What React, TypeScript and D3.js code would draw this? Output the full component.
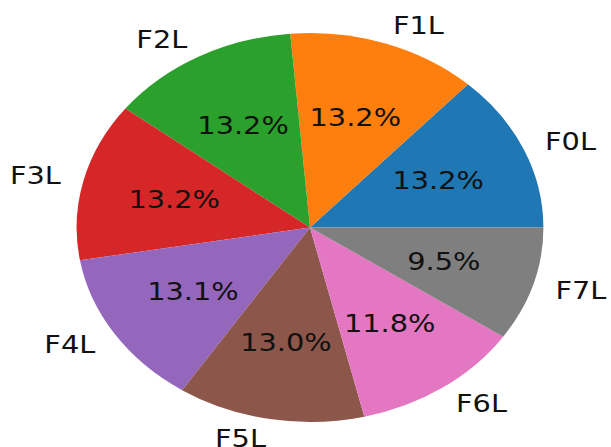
import * as d3 from 'd3';

const labels = ["F0L", "F1L", "F2L", "F3L", "F4L", "F5L", "F6L", "F7L"];
const shares = [13.2, 13.2, 13.2, 13.2, 13.1, 13.0, 11.8, 9.5];
const colors = ["#1f77b4", "#ff7f0e", "#2ca02c", "#d62728", "#9467bd", "#8c564b", "#e377c2", "#7f7f7f"];

const W = 611;
const H = 447;
// the picture is stretched sideways, so draw a circle and squeeze x
const stretchX = 1.2;
const cx = 310 / stretchX;
const cy = 227.5;
const radius = 194.5;

const App = () => {
  const idx = d3.range(shares.length);

  // matplotlib style: start at 3 o'clock, go counterclockwise
  const pie = d3.pie<number>()
    .sort(null)
    .value(i => shares[i])
    .startAngle(Math.PI / 2)
    .endAngle(Math.PI / 2 - Math.PI * 2);

  const arcs = pie(idx);
  const arc = d3.arc<d3.PieArcDatum<number>>().innerRadius(0).outerRadius(radius);

  const at = (a: d3.PieArcDatum<number>, k: number) => {
    const mid = (a.startAngle + a.endAngle) / 2;
    return [Math.sin(mid) * radius * k, -Math.cos(mid) * radius * k];
  };

  return (
    <svg width={W} height={H} style={{ position: 'absolute', left: 0, top: 0, background: '#fff' }}>
      <g transform={`scale(${stretchX},1) translate(${cx},${cy})`}
        fontFamily="DejaVu Sans, sans-serif" fontSize={24} fill="#111">
        {arcs.map(a => (
          <path key={'s' + a.data} d={arc(a) || ''} fill={colors[a.data]} />
        ))}
        {arcs.map(a => {
          const [x, y] = at(a, 0.6);
          return (
            <text key={'p' + a.data} x={x} y={y} dy="0.36em" textAnchor="middle">
              {shares[a.data].toFixed(1)}%
            </text>
          );
        })}
        {arcs.map(a => {
          const [x, y] = at(a, 1.1);
          return (
            <text key={'l' + a.data} x={x} y={y} dy="0.36em" textAnchor={x > 0 ? 'start' : 'end'}>
              {labels[a.data]}
            </text>
          );
        })}
      </g>
    </svg>
  );
};

export default App;
